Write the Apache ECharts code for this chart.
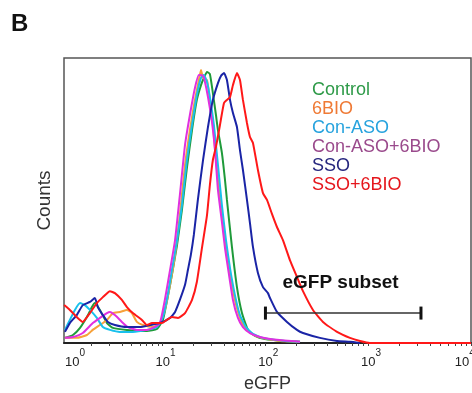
<!DOCTYPE html>
<html>
<head>
<meta charset="utf-8">
<script src="https://cdn.jsdelivr.net/npm/echarts@6/dist/echarts.min.js"></script>
<style>
  html, body { margin: 0; background: #fff; }
  #chart { width: 472px; height: 393px; }
</style>
</head>
<body>
<div id="chart"></div>
<script>
const seriesNames = ["Control", "6BIO", "Con-ASO", "Con-ASO+6BIO", "SSO", "SSO+6BIO"];
const lineColors = ["#1f9a3a", "#f7a13a", "#19c0ec", "#e030e0", "#1a24a6", "#ff1818"];
const legendColors = ["#2e9a48", "#ef7a35", "#27a3de", "#9a4a8c", "#26267e", "#e5161c"];

// [eGFP, counts]
const controlData = [
  [1.12, 1.8], [1.34, 2.8], [1.57, 5.3], [1.83, 9.1], [2.05, 12.6], [2.19, 14.0], [2.45, 11.6],
  [2.87, 7.0], [3.28, 5.3], [4.49, 4.6], [7.03, 4.2], [8.79, 4.9], [10.05, 8.1], [11.2, 16.1],
  [12.3, 23.9], [13.8, 34.4], [15.4, 46.7], [17.2, 61.4], [19.3, 74.7], [21.5, 85.3], [23.6, 90.5],
  [25.2, 93.0], [27.0, 95.1], [28.8, 94.4], [30.8, 87.7], [33.0, 80.0], [34.5, 74.7], [37.7, 66.7],
  [40.4, 57.2], [42.2, 50.2], [47.2, 33.7], [52.8, 19.6], [59.1, 10.5], [67.6, 4.6], [79.0, 2.5],
  [98.9, 1.4], [155, 0.7], [217, 0.4]
];
const bio6Data = [
  [1.12, 1.8], [1.46, 1.8], [1.83, 2.8], [2.09, 4.6], [2.45, 6.3], [2.87, 8.1], [3.28, 10.5],
  [3.84, 10.9], [4.49, 11.6], [5.02, 10.5], [5.61, 7.4], [6.42, 6.3], [8.04, 5.6], [9.4, 7.0],
  [10.5, 11.6], [11.8, 20.4], [13.2, 30.9], [14.7, 44.9], [16.5, 62.5], [18.4, 74.7], [20.6, 85.3],
  [22.5, 92.3], [23.6, 95.8], [24.7, 93.0], [27.0, 92.3], [28.8, 85.3], [30.8, 76.5], [33.0, 64.2],
  [36.1, 50.2], [39.5, 39.0], [42.2, 30.9], [45.2, 23.9], [50.5, 15.1], [56.5, 8.8], [63.0, 5.3],
  [73.6, 3.2], [91.5, 1.8], [138, 0.7], [217, 0.4]
];
const conAsoData = [
  [1.12, 4.6], [1.25, 8.1], [1.40, 11.6], [1.57, 14.0], [1.75, 13.3], [1.96, 11.6], [2.29, 8.8],
  [2.62, 5.6], [3.07, 4.6], [3.84, 3.9], [5.13, 3.9], [7.03, 4.6], [8.79, 5.6], [10.05, 9.1],
  [11.2, 16.8], [12.3, 25.6], [13.8, 36.1], [15.4, 48.4], [17.2, 64.2], [19.3, 76.5], [21.5, 87.0],
  [23.6, 93.0], [25.2, 94.0], [27.0, 91.6], [28.8, 86.3], [31.5, 76.5], [34.5, 62.5], [37.7, 48.4],
  [41.3, 36.1], [45.2, 26.3], [50.5, 16.8], [56.5, 9.8], [64.6, 5.6], [75.6, 3.2], [94.6, 1.8],
  [155, 0.7], [217, 0.4]
];
const conAso6bioData = [
  [1.12, 1.8], [1.34, 2.1], [1.67, 3.5], [2.09, 7.0], [2.45, 8.8], [2.87, 10.5], [3.07, 10.9],
  [3.43, 9.8], [4.01, 7.4], [4.59, 5.6], [5.61, 4.6], [7.03, 4.6], [8.04, 5.3], [9.4, 7.0],
  [10.5, 15.1], [11.8, 25.6], [13.2, 36.1], [14.7, 51.9], [16.5, 69.5], [18.4, 80.0], [20.6, 89.5],
  [22.5, 94.0], [24.7, 93.7], [25.8, 91.6], [27.6, 86.3], [30.2, 77.5], [32.3, 67.7], [34.5, 53.7],
  [37.7, 42.5], [40.4, 33.3], [43.2, 26.3], [48.3, 15.1], [54.0, 8.8], [60.4, 5.6], [70.7, 3.5],
  [88.4, 2.1], [129, 1.1], [217, 0.4]
];
const ssoData = [
  [1.12, 3.9], [1.25, 7.0], [1.46, 9.8], [1.67, 13.3], [1.96, 14.4], [2.19, 15.8], [2.34, 12.6],
  [2.62, 9.8], [2.93, 7.4], [3.43, 6.3], [4.49, 5.6], [6.01, 5.6], [7.52, 6.3], [9.4, 7.0],
  [11.8, 8.8], [13.2, 10.9], [14.7, 15.1], [16.5, 20.4], [17.6, 25.6], [18.8, 30.9], [20.1, 37.9],
  [22.0, 50.2], [24.7, 64.2], [27.6, 75.8], [30.8, 85.3], [34.5, 91.2], [36.9, 93.7], [39.5, 94.7],
  [42.2, 92.3], [45.2, 85.3], [48.3, 80.7], [52.8, 75.8], [56.5, 67.7], [60.4, 60.7], [66.1, 50.2],
  [70.7, 42.1], [75.6, 33.7], [84.5, 24.6], [94.6, 19.6], [105.8, 17.5], [110.7, 15.8],
  [129.4, 10.9], [161.9, 7.4], [202.6, 4.6], [231.8, 3.5], [339, 1.8], [497, 0.7], [664, 0.4],
  [832, 0]
];
const sso6bioData = [
  [1.1, 13.3], [1.25, 11.6], [1.46, 9.1], [1.67, 7.4], [1.96, 10.5], [2.29, 14.0], [2.62, 16.1],
  [3.07, 18.2], [3.43, 17.5], [4.01, 15.1], [4.49, 12.6], [5.13, 10.5], [6.28, 8.1], [7.03, 6.3],
  [7.86, 7.0], [8.79, 7.0], [9.84, 7.0], [11.0, 8.1], [12.3, 9.1], [14.1, 8.8], [16.5, 10.5],
  [19.3, 15.1], [21.5, 21.4], [24.1, 33.3], [27.0, 44.9], [28.8, 55.4], [30.8, 64.2], [33.0, 68.8],
  [36.1, 76.5], [39.5, 84.2], [42.2, 85.3], [45.2, 86.3], [48.3, 90.5], [52.8, 94.7], [56.5, 92.3],
  [60.4, 85.3], [66.1, 77.2], [70.7, 72.3], [75.6, 70.2], [84.5, 60.7], [94.6, 52.6], [103.5, 50.2],
  [115.7, 45.3], [129.4, 40.7], [148, 36.1], [173, 29.1], [202.6, 23.2], [231.8, 18.2], [290, 11.6],
  [363, 7.4], [497, 3.9], [664, 1.8], [832, 0.7], [1040, 0], [10000, 0]
];
const allData = [controlData, bio6Data, conAsoData, conAso6bioData, ssoData, sso6bioData];

// log10(eGFP) extent of the plot box
const axisMin = 0.04;
const axisMax = 4;
const labelDecades = [0, 1, 2, 3, 4];
const tickSteps = [1, 2, 3, 4, 5, 6, 7, 8, 9];

// gate "eGFP subset"
const gateRange = [100, 3260];
const gateLevel = 10.5;

const fontFamily = "'Liberation Sans', Arial, sans-serif";

const toLog = (pts) => pts.map(([x, y]) => [Math.log10(x), y]);

const tickValues = [];
labelDecades.forEach((d) => {
  tickSteps.forEach((k) => {
    const v = d + Math.log10(k);
    if (v >= axisMin && v <= axisMax) tickValues.push(v);
  });
});
const labelValues = labelDecades.map((d) => Math.min(Math.max(d, axisMin), axisMax));

const chart = echarts.init(document.getElementById("chart"));

const lineSeries = seriesNames.map((name, i) => ({
  name,
  type: "line",
  data: toLog(allData[i]),
  symbol: "none",
  smooth: 0.15,
  lineStyle: { color: lineColors[i], width: 2 },
  itemStyle: { color: lineColors[i] },
  z: 2 + i,
}));

const gateSeries = {
  type: "custom",
  silent: true,
  z: 20,
  data: [[Math.log10(gateRange[0]), Math.log10(gateRange[1]), gateLevel]],
  renderItem: (params, api) => {
    const a = api.coord([api.value(0), api.value(2)]);
    const b = api.coord([api.value(1), api.value(2)]);
    const h = 6.5;
    return {
      type: "group",
      children: [
        { type: "line", shape: { x1: a[0], y1: a[1], x2: b[0], y2: b[1] }, style: { stroke: "#333", lineWidth: 1.5 } },
        { type: "line", shape: { x1: a[0], y1: a[1] - h, x2: a[0], y2: a[1] + h }, style: { stroke: "#111", lineWidth: 3 } },
        { type: "line", shape: { x1: b[0], y1: b[1] - h, x2: b[0], y2: b[1] + h }, style: { stroke: "#111", lineWidth: 3 } },
        {
          type: "text",
          x: a[0] + 17,
          y: a[1] - 30,
          style: { text: "eGFP subset", fontSize: 19, fontWeight: "bold", fill: "#111", fontFamily, verticalAlign: "middle" },
        },
      ],
    };
  },
};

const option = {
  animation: false,
  backgroundColor: "#fff",
  grid: {
    show: true,
    left: 64,
    top: 58,
    right: 1,
    bottom: 50,
    containLabel: false,
    outerBoundsMode: "none",
    borderColor: "#555",
    borderWidth: 1.5,
  },
  legend: {
    orient: "vertical",
    left: 307,
    top: 81,
    padding: 0,
    itemGap: 0,
    itemWidth: 0,
    itemHeight: 19,
    icon: "none",
    selectedMode: false,
    textStyle: { fontSize: 18, fontFamily, lineHeight: 19 },
    data: seriesNames.map((name, i) => ({ name, textStyle: { color: legendColors[i] } })),
  },
  xAxis: {
    type: "value",
    min: axisMin,
    max: axisMax,
    splitLine: { show: false },
    axisLine: { show: true, lineStyle: { color: "#222", width: 2 } },
    axisTick: { show: true, customValues: tickValues, length: 3, lineStyle: { color: "#444", width: 1 } },
    axisLabel: {
      customValues: labelValues,
      margin: 5,
      hideOverlap: false,
      formatter: (v) => {
        const d = Math.round(v);
        if (d === labelDecades[0]) return `{pl| }{b|10}{s|${d}}`;
        if (d === labelDecades[labelDecades.length - 1]) return `{b|10}{s|${d}}{pr| }`;
        return `{pm| }{b|10}{s|${d}}`;
      },
      rich: {
        b: { fontSize: 13, lineHeight: 28, color: "#222", fontFamily },
        s: { fontSize: 10, lineHeight: 12, verticalAlign: "top", color: "#222", fontFamily },
        pl: { width: 22 },
        pm: { width: 5.6 },
        pr: { width: 12.4 },
      },
    },
    name: "eGFP",
    nameLocation: "middle",
    nameGap: 32,
    nameTextStyle: { fontSize: 18, color: "#333", fontFamily },
  },
  yAxis: {
    type: "value",
    min: 0,
    max: 100,
    axisLine: { show: false },
    axisTick: { show: false },
    axisLabel: { show: false },
    splitLine: { show: false },
    name: "Counts",
    nameLocation: "middle",
    nameGap: 10,
    nameTextStyle: { fontSize: 19, color: "#333", fontFamily },
  },
  graphic: [
    { type: "text", left: 11, top: 12, style: { text: "B", fontSize: 24, fontWeight: "bold", fill: "#111", fontFamily } },
  ],
  series: [...lineSeries, gateSeries],
};

chart.setOption(option);
</script>
</body>
</html>
